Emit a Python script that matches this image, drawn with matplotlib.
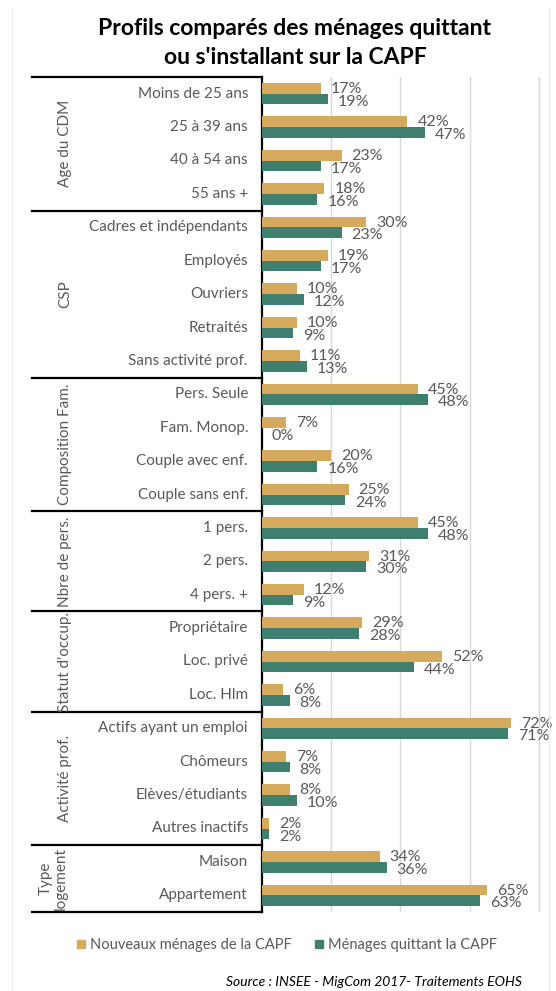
import matplotlib
matplotlib.use("Agg")
import matplotlib.pyplot as plt
from matplotlib.lines import Line2D
from matplotlib import transforms

# ---- data ----
groups = ["Age du CDM", "CSP", "Composition Fam.", "Nbre de pers.",
          "Statut d'occup.", "Activité prof.", "Type\nlogement"]
group_sizes = [4, 5, 4, 3, 3, 4, 2]
categories = ["Moins de 25 ans", "25 à 39 ans", "40 à 54 ans", "55 ans +",
              "Cadres et indépendants", "Employés", "Ouvriers", "Retraités",
              "Sans activité prof.",
              "Pers. Seule", "Fam. Monop.", "Couple avec enf.", "Couple sans enf.",
              "1 pers.", "2 pers.", "4 pers. +",
              "Propriétaire", "Loc. privé", "Loc. Hlm",
              "Actifs ayant un emploi", "Chômeurs", "Elèves/étudiants", "Autres inactifs",
              "Maison", "Appartement"]
nouveaux = [17, 42, 23, 18, 30, 19, 10, 10, 11, 45, 7, 20, 25, 45, 31, 12,
            29, 52, 6, 72, 7, 8, 2, 34, 65]
quittant = [19, 47, 17, 16, 23, 17, 12, 9, 13, 48, 0, 16, 24, 48, 30, 9,
            28, 44, 8, 71, 8, 10, 2, 36, 63]
series_names = ["Nouveaux ménages de la CAPF", "Ménages quittant la CAPF"]
title = "Profils comparés des ménages quittant\nou s'installant sur la CAPF"
source = "Source : INSEE - MigCom 2017- Traitements EOHS"

GOLD = "#D6AA5C"
GREEN = "#3F7F6F"
TXT = "#595959"
FONT = "Lato"

W, H = 556, 991
fig = plt.figure(figsize=(W / 100, H / 100), dpi=100)
fig.patch.set_facecolor("white")

# faint chart-area border
fig.add_artist(Line2D([12 / W, 12 / W], [0, 1 - 8 / H], transform=fig.transFigure,
                      color="#EDEDED", lw=1))
fig.add_artist(Line2D([549 / W, 549 / W], [0, 1 - 8 / H], transform=fig.transFigure,
                      color="#EDEDED", lw=1))

ax_left, ax_right, ax_top, ax_bot = 262, 548, 77, 912
ax = fig.add_axes([ax_left / W, 1 - ax_bot / H, (ax_right - ax_left) / W, (ax_bot - ax_top) / H])

n = len(categories)
ys = list(range(n))
bh = 0.32
ax.barh([y - bh / 2 for y in ys], nouveaux, height=bh, color=GOLD, zorder=3)
ax.barh([y + bh / 2 for y in ys], quittant, height=bh, color=GREEN, zorder=3)

ax.set_ylim(n - 0.5, -0.5)
ax.set_xlim(0, (ax_right - ax_left) / 3.46)
for g in [20, 40, 60, 80]:
    ax.axvline(g, color="#D9D9D9", lw=1, zorder=1)

off = 10 / 3.46
for y, a, b in zip(ys, nouveaux, quittant):
    ax.text(a + off, y - 0.14, f"{a}%", va="center", ha="left", fontsize=11.5,
            color=TXT, family=FONT, zorder=4)
    ax.text(b + off, y + 0.24, f"{b}%", va="center", ha="left", fontsize=11.5,
            color=TXT, family=FONT, zorder=4)

ax.set_xticks([])
ax.set_yticks([])
for s in ["top", "right", "bottom"]:
    ax.spines[s].set_visible(False)
ax.spines["left"].set_color("black")
ax.spines["left"].set_linewidth(1.6)

# category labels
trans = transforms.blended_transform_factory(fig.transFigure, ax.transData)
for y, c in zip(ys, categories):
    ax.text(248 / W, y, c, transform=trans, ha="right", va="center",
            fontsize=11, color=TXT, family=FONT)

# group separators and labels
bounds = [0]
for s in group_sizes:
    bounds.append(bounds[-1] + s)
for b in bounds:
    ax.add_line(Line2D([32 / W, ax_left / W], [b - 0.5, b - 0.5], transform=trans,
                       color="black", lw=1.6, clip_on=False))
for gname, s0, s1 in zip(groups, bounds[:-1], bounds[1:]):
    mid = (s0 + s1 - 1) / 2
    xg = 65 if "\n" not in gname else 53
    ax.text(xg / W, mid, gname, transform=trans, rotation=90, ha="center",
            va="center", fontsize=11, color=TXT, family=FONT, linespacing=1.1)

# title
fig.text(295 / W, 1 - 43 / H, title, ha="center", va="center", fontsize=16.5,
         fontweight="bold", color="black", family=FONT, linespacing=1.45)

# legend
handles = [Line2D([], [], marker="s", ls="none", color=GOLD, markersize=6),
           Line2D([], [], marker="s", ls="none", color=GREEN, markersize=6)]
leg = fig.legend(handles, series_names, loc="center", bbox_to_anchor=(287 / W, 1 - 945 / H),
                 ncol=2, frameon=False, handlelength=0.6, handletextpad=0.3,
                 columnspacing=1.6, prop={"family": FONT, "size": 10.5})
for t in leg.get_texts():
    t.set_color(TXT)

fig.text(522 / W, 1 - 982 / H, source, ha="right", va="center", fontsize=10,
         style="italic", color="black", family=FONT)

fig.savefig("out.png", dpi=100)
